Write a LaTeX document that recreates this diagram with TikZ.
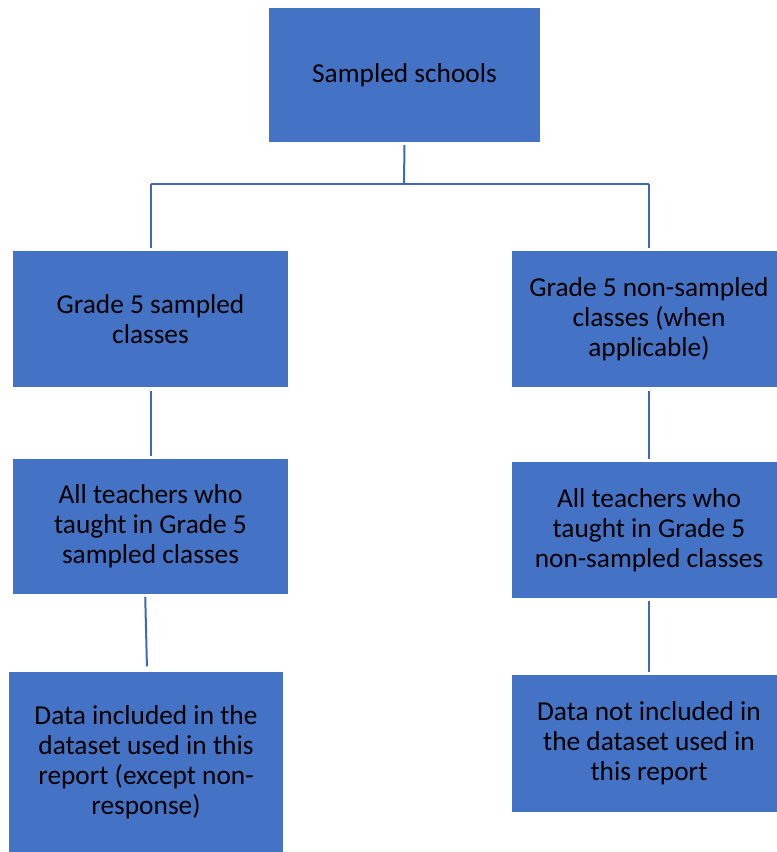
\documentclass[tikz,border=0pt]{standalone}
\usepackage{fontspec}
\setmainfont{Carlito}
\definecolor{boxblue}{HTML}{4472C4}
\definecolor{lineblue}{HTML}{3F69B6}
\begin{document}
\begin{tikzpicture}[x=0.75pt,y=-0.75pt,
  box/.style={rectangle, fill=boxblue, draw=none, inner sep=0pt, align=center,
    text=black, font=\fontsize{20.5}{22.5}\selectfont},
  conn/.style={draw=lineblue, line width=1.5pt}]
\useasboundingbox (0,0) rectangle (777,852);
\fill[white] (0,0) rectangle (777,852);
\node[box, minimum width=271*0.75pt, minimum height=134*0.75pt] (top) at (404.5,75) {Sampled schools};
\node[box, minimum width=275*0.75pt, minimum height=136*0.75pt] (L1) at (150.5,319) {Grade 5 sampled\\classes};
\node[box, minimum width=274*0.75pt, minimum height=136*0.75pt] (R1) at (649,319) {Grade 5 non-sampled\\classes (when\\applicable)};
\node[box, minimum width=275*0.75pt, minimum height=135*0.75pt] (L2) at (150.5,526.5) {All teachers who\\taught in Grade 5\\sampled classes};
\node[box, minimum width=274*0.75pt, minimum height=136*0.75pt] (R2) at (649,530) {All teachers who\\taught in Grade 5\\non-sampled classes};
\node[box, minimum width=274*0.75pt, minimum height=181*0.75pt] (L3) at (146,762.5) {Data included in the\\dataset used in this\\report (except non-\\response)};
\node[box, minimum width=274*0.75pt, minimum height=137*0.75pt] (R3) at (649,743.5) {Data not included in\\the dataset used in\\this report};
\coordinate (bus) at (404,184);
\draw[conn, shorten <=2.2pt] (top.south) -- (bus);
\draw[conn] (bus -| L1.north) -- (bus -| R1.north);
\draw[conn, shorten >=2.2pt] (bus -| L1.north) -- (L1.north);
\draw[conn, shorten >=2.2pt] (bus -| R1.north) -- (R1.north);
\draw[conn, shorten <=3pt, shorten >=2.2pt] (L1.south) -- (L2.north);
\draw[conn, shorten <=2pt, shorten >=4pt] ([xshift=-4pt]L2.south) -- ([xshift=0.8pt]L3.north);
\draw[conn, shorten <=3pt, shorten >=2.2pt] (R1.south) -- (R2.north);
\draw[conn, shorten <=2.2pt, shorten >=2.2pt] (R2.south) -- (R3.north);
\end{tikzpicture}
\end{document}
